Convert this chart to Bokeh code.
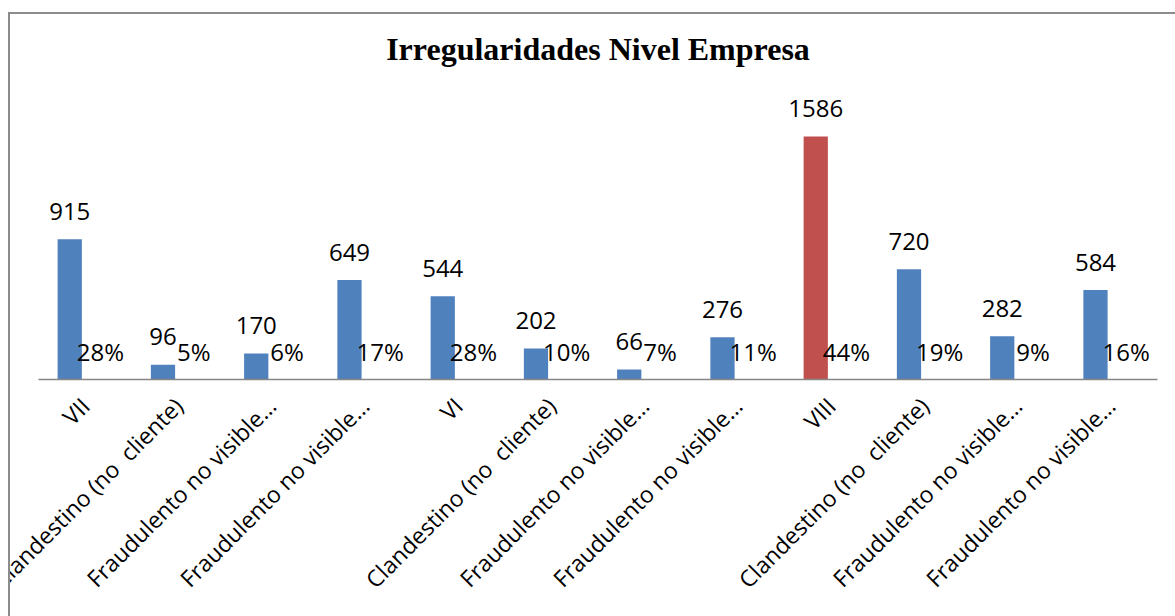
import math
from bokeh.plotting import figure
from bokeh.models import ColumnDataSource, FixedTicker, Range1d, InlineStyleSheet
from bokeh.core.properties import value
from bokeh.embed import file_html
from bokeh.resources import INLINE

categories = ["VII", "Clandestino (no \u00a0cliente)", "Fraudulento no visible…", "Fraudulento no visible…",
              "VI", "Clandestino (no \u00a0cliente)", "Fraudulento no visible…", "Fraudulento no visible…",
              "VIII", "Clandestino (no \u00a0cliente)", "Fraudulento no visible…", "Fraudulento no visible…"]
counts = [915, 96, 170, 649, 544, 202, 66, 276, 1586, 720, 282, 584]
percents = [28, 5, 6, 17, 28, 10, 7, 11, 44, 19, 9, 16]
highlight = "VIII"

BLUE = "#4F81BD"
RED = "#C0504D"

pos = list(range(1, len(categories) + 1))
src = ColumnDataSource(dict(
    x=[p - 0.165 for p in pos],
    xp=[p + 0.165 for p in pos],
    top=counts,
    zero=[0] * len(counts),
    lbl=[str(c) for c in counts],
    plbl=[f"{v}%" for v in percents],
    color=[RED if c == highlight else BLUE for c in categories],
))

p = figure(width=1175, height=616, output_backend="svg", toolbar_location=None,
           x_range=Range1d(0.5, 12.5), y_range=Range1d(0, 2017),
           y_axis_location=None,
           min_border_left=38, min_border_right=18, min_border_top=70, min_border_bottom=237)

p.vbar(x="x", top="top", bottom=0, width=0.26, fill_color="color", line_color=None, source=src)

p.text(x="x", y="top", text="lbl", source=src, text_align="center", text_baseline="alphabetic",
       y_offset=-28, text_font=value("Open Sans"), text_font_size="24px", text_color="#000000")
p.text(x="xp", y="zero", text="plbl", source=src, text_align="center", text_baseline="alphabetic",
       y_offset=-28, text_font=value("Open Sans"), text_font_size="24px", text_color="#000000")

ax = p.xaxis[0]
ax.ticker = FixedTicker(ticks=pos)
ax.major_label_overrides = {i: c for i, c in zip(pos, categories)}
ax.major_label_orientation = math.pi / 4
ax.major_label_standoff = 16
ax.major_tick_line_color = None
ax.minor_tick_line_color = None
ax.axis_line_color = "#868686"
ax.axis_line_width = 1.5
ax.major_label_text_font = "Open Sans"
ax.major_label_text_font_size = "23px"
ax.major_label_text_color = "#000000"

p.xgrid.visible = False
p.ygrid.visible = False
p.outline_line_color = None

p.title.text = "Irregularidades Nivel Empresa"
p.title.text_font = "Liberation Serif"
p.title.text_font_size = "32px"
p.title.text_font_style = "bold"
p.title.text_color = "#000000"
p.title.align = "center"
p.title.standoff = 7

p.stylesheets = [InlineStyleSheet(css="""
:host::before { content: ''; position: absolute; left: 0; top: 0; width: 8px; bottom: 0;
  background: #ffffff; border: none; pointer-events: none; z-index: 10; }
:host::after { content: ''; position: absolute; left: 8px; top: 12px; width: 1200px; height: 700px;
  border: none; border-left: 2px solid #8c8c8c; border-top: 2px solid #8c8c8c;
  pointer-events: none; z-index: 10; }
:host { overflow: hidden; }
""")]

open("out.html", "w").write(file_html(p, INLINE))
